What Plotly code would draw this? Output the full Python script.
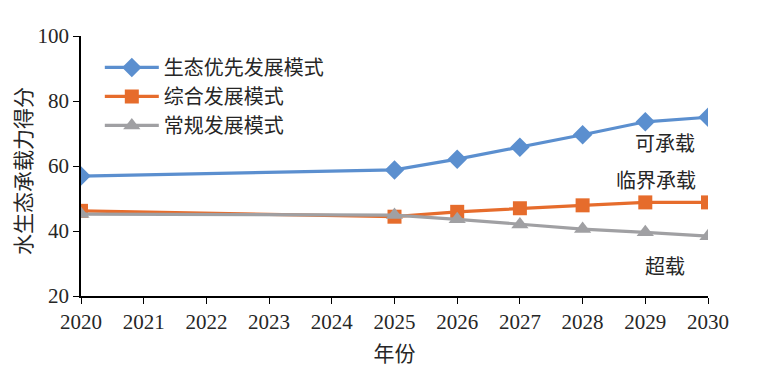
import plotly.graph_objects as go

years = [2020, 2025, 2026, 2027, 2028, 2029, 2030]
eco_first = [56.9, 58.8, 62.1, 65.8, 69.6, 73.6, 75.0]
integrated = [46.2, 44.4, 45.9, 47.0, 47.9, 48.8, 48.8]
conventional = [45.2, 44.9, 43.6, 42.0, 40.6, 39.6, 38.4]
series_names = ["生态优先发展模式", "综合发展模式", "常规发展模式"]
tick_years = list(range(2020, 2031))
zone_labels = ["可承载", "临界承载", "超载"]
zone_pos = [(2029.31, 67.1), (2029.17, 55.8), (2029.31, 29.5)]
y_title = "水生态承载力得分"
x_title = "年份"

cjk = "Noto Sans CJK SC"
serif = "Liberation Serif"
txt_color = "#262626"

fig = go.Figure()
fig.add_trace(go.Scatter(x=years, y=eco_first, name=series_names[0], mode="lines+markers",
                         line=dict(color="#5B8FCF", width=3.2),
                         marker=dict(symbol="diamond", size=15, color="#5B8FCF")))
fig.add_trace(go.Scatter(x=years, y=integrated, name=series_names[1], mode="lines+markers",
                         line=dict(color="#E66C2C", width=3.2),
                         marker=dict(symbol="square", size=14, color="#E66C2C")))
fig.add_trace(go.Scatter(x=years, y=conventional, name=series_names[2], mode="lines+markers",
                         line=dict(color="#A0A0A3", width=3.2),
                         marker=dict(symbol="triangle-up", size=15, color="#A0A0A3")))

for txt, (xx, yy) in zip(zone_labels, zone_pos):
    fig.add_annotation(x=xx, y=yy, text=txt, showarrow=False, xanchor="center", yanchor="middle",
                       font=dict(family=cjk, size=20, color=txt_color))

fig.add_annotation(xref="paper", yref="paper", x=0, y=0.5, xshift=-59, yshift=-5,
                   text=y_title, textangle=-90, showarrow=False,
                   xanchor="center", yanchor="middle",
                   font=dict(family=cjk, size=21, color=txt_color))

fig.update_layout(
    width=764, height=376,
    margin=dict(l=73, r=64, t=28, b=88, autoexpand=False),
    plot_bgcolor="white", paper_bgcolor="white",
    showlegend=True,
    legend=dict(x=0.03, y=0.954, xanchor="left", yanchor="top",
                font=dict(family=cjk, size=20, color=txt_color),
                itemwidth=54,
                bgcolor="rgba(0,0,0,0)", tracegroupgap=0),
    xaxis=dict(range=[2020, 2030], tickmode="array", tickvals=tick_years,
               ticktext=[str(t) for t in tick_years], automargin=False,
               showline=True, linecolor="black", linewidth=1.5,
               ticks="outside", ticklen=6, tickcolor="black",
               showgrid=False, zeroline=False,
               tickfont=dict(family=serif, size=21, color=txt_color),
               title=dict(text=x_title, font=dict(family=cjk, size=21, color=txt_color), standoff=13)),
    yaxis=dict(range=[20, 100], tickvals=[20, 40, 60, 80, 100], automargin=False,
               showline=True, linecolor="black", linewidth=1.5,
               ticks="outside", ticklen=6, tickcolor="black",
               showgrid=False, zeroline=False,
               tickfont=dict(family=serif, size=21, color=txt_color)),
)

fig.write_html("out.html")
